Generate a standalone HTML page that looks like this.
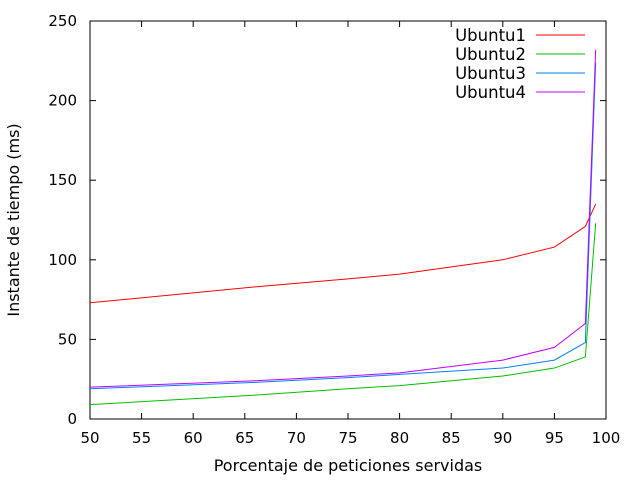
<!DOCTYPE html>
<html><head><meta charset="utf-8"><style>body{margin:0;background:#fff}svg{display:block;font-family:"DejaVu Sans","Liberation Sans",sans-serif}</style></head>
<body>
<svg id="chart" width="640" height="480" xmlns="http://www.w3.org/2000/svg"></svg>
<script>
const xValues=[50,66,75,80,90,95,98,99];
const seriesNames=["Ubuntu1","Ubuntu2","Ubuntu3","Ubuntu4"];
const ubuntu1=[73,83,88,91,100,108,121,135];
const ubuntu2=[9,15,19,21,27,32,39,123];
const ubuntu3=[19,23,26,28,32,37,48,224];
const ubuntu4=[20,24,27,29,37,45,60,232];
const xTicks=[50,55,60,65,70,75,80,85,90,95,100];
const yTicks=[0,50,100,150,200,250];
const colors=["#ff0000","#00c000","#0080ff","#c000ff"];
const L=90,R=606,T=21,B=419;
const sx=v=>L+(v-50)/50*(R-L), sy=v=>B-v/250*(B-T);
const svg=document.getElementById('chart'),NS="http://www.w3.org/2000/svg";
function mk(t,a,p){const e=document.createElementNS(NS,t);for(const k in a)e.setAttribute(k,a[k]);(p||svg).appendChild(e);return e;}
const frame=mk('rect',{x:L,y:T,width:R-L,height:B-T,fill:'none',stroke:'#000','stroke-width':1});


xTicks.forEach(v=>{const x=sx(v);
 mk('line',{x1:x,y1:B,x2:x,y2:B-6,stroke:'#000'});mk('line',{x1:x,y1:T,x2:x,y2:T+6,stroke:'#000'});
 const t=mk('text',{x:x,y:443,'text-anchor':'middle','font-size':15,fill:'#000'});t.textContent=v;
 
 });
yTicks.forEach(v=>{const y=sy(v);
 mk('line',{x1:L,y1:y,x2:L+6,y2:y,stroke:'#000'});mk('line',{x1:R,y1:y,x2:R-6,y2:y,stroke:'#000'});
 const t=mk('text',{x:77,y:y+5,'text-anchor':'end','font-size':15,fill:'#000'});t.textContent=v;
 
 });
const xl=mk('text',{x:348,y:471,'text-anchor':'middle','font-size':16});xl.textContent='Porcentaje de peticiones servidas';


const yl=mk('text',{x:0,y:0,transform:'translate(19,220) rotate(-90)','text-anchor':'middle','font-size':16});yl.textContent='Instante de tiempo (ms)';


[ubuntu1,ubuntu2,ubuntu3,ubuntu4].forEach((s,i)=>{
 const p=mk('polyline',{points:s.map((v,j)=>sx(xValues[j])+','+sy(v)).join(' '),fill:'none',stroke:colors[i],'stroke-width':1});
 
 
 const ly=35+i*19;
 const t=mk('text',{x:526,y:ly+6,'text-anchor':'end','font-size':16.5});t.textContent=seriesNames[i];
 
 
 const l=mk('line',{x1:536,y1:ly,x2:585,y2:ly,stroke:colors[i]});
 
 
});
</script>
</body></html>
